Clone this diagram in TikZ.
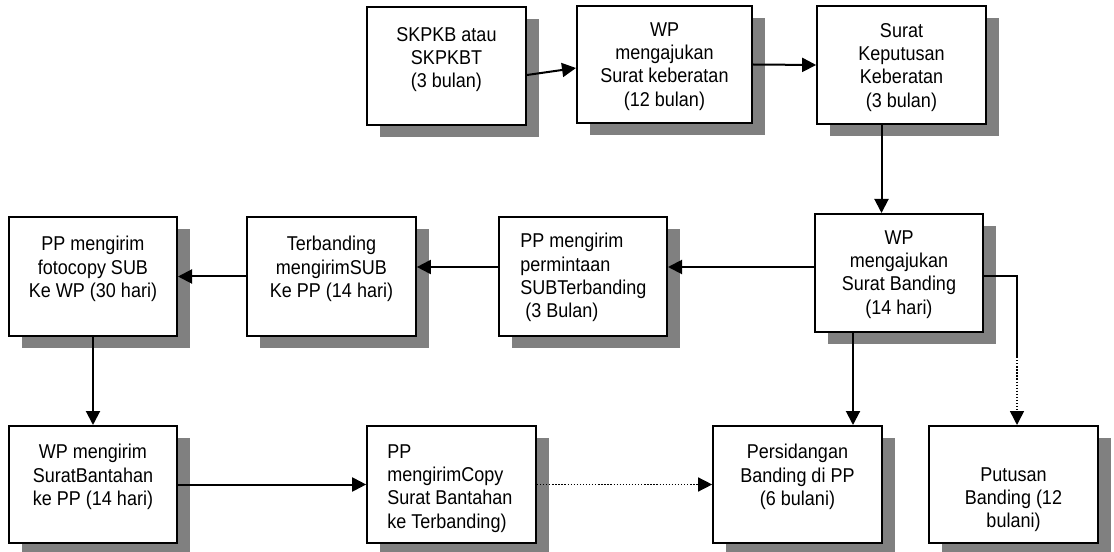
\documentclass[tikz,border=0pt]{standalone}
\usepackage{fontspec}
\setmainfont{Liberation Sans}[FakeStretch=0.9]
\usepackage{tikz}
\usetikzlibrary{calc,shadows,arrows.meta}
\usepackage{xcolor}
\definecolor{shadowgray}{RGB}{128,128,128}
\definecolor{linkblack}{RGB}{0,0,0}

\tikzset{
  box/.style={draw=linkblack,line width=1.5pt,fill=white,
    minimum width=126.5pt,minimum height=88.5pt,inner sep=0pt,
    drop shadow={shadow xshift=9.5pt,shadow yshift=-9pt,fill=shadowgray,opacity=1}},
  boxtext/.style={anchor=north,align=center,inner sep=0pt,
    font=\fontsize{15}{17.5}\selectfont},
  boxtextl/.style={boxtext,anchor=north west,align=left},
  arr/.style={linkblack,line width=1.5pt,-{Triangle[length=10.5pt,width=10.5pt]}},
  dotarr/.style={arr,line width=1.1pt,dash pattern=on 1pt off 1.3pt},
}

\begin{document}
\begin{tikzpicture}[x=0.75pt,y=-0.75pt]
  % --- background ---
  \fill[white] (0,0) rectangle (1114,552);
  \useasboundingbox (0,0) rectangle (1114,552);

  % --- top row ---
  \node[box,minimum width=119.25pt] (skpkb) at (446.5,66) {};
  \node[box,minimum width=131.25pt,minimum height=87.75pt] (keberatan) at (664.5,64.5) {};
  \node[box] (keputusan) at (901.5,65) {};

  % --- middle row ---
  \node[box,minimum width=126pt] (wpbanding) at (899,273) {};
  \node[box,minimum width=126pt,minimum height=89.25pt] (permintaan) at (583,276.5) {};
  \node[box,minimum height=89.25pt] (terbanding) at (331.5,276.5) {};
  \node[box,minimum width=126pt,minimum height=89.25pt] (fotocopy) at (93,276.5) {};

  % --- bottom row ---
  \node[box,minimum width=126pt,minimum height=87.75pt] (wpkirim) at (93,484.5) {};
  \node[box,minimum height=87.75pt] (copy) at (451.5,484.5) {};
  \node[box,minimum height=87.75pt] (sidang) at (797.5,484.5) {};
  \node[box,minimum height=87.75pt] (putusan) at (1013.5,484.5) {};

  % --- texts ---
  \node[boxtext] (skpkb-t) at ($(skpkb.north)+(0,21)$) {SKPKB atau\\SKPKBT\\(3 bulan)};
  \node[boxtext] (keberatan-t) at ($(keberatan.north)+(0,17)$) {WP\\mengajukan\\Surat keberatan\\(12 bulan)};
  \node[boxtext] (keputusan-t) at ($(keputusan.north)+(0,18)$) {Surat\\Keputusan\\Keberatan\\(3 bulan)};
  \node[boxtext] (wpbanding-t) at ($(wpbanding.north)+(0,17)$) {WP\\mengajukan\\Surat Banding\\(14 hari)};
  \node[boxtextl] (permintaan-t) at ($(permintaan.north west)+(22,17)$) {PP mengirim\\permintaan\\SUBTerbanding\\\ (3 Bulan)};
  \node[boxtext] (terbanding-t) at ($(terbanding.north)+(0,20)$) {Terbanding\\mengirimSUB\\Ke PP (14 hari)};
  \node[boxtext] (fotocopy-t) at ($(fotocopy.north)+(0,20)$) {PP mengirim\\fotocopy SUB\\Ke WP (30 hari)};
  \node[boxtext] (wpkirim-t) at ($(wpkirim.north)+(0,19)$) {WP mengirim\\SuratBantahan\\ke PP (14 hari)};
  \node[boxtextl] (copy-t) at ($(copy.north west)+(21,19)$) {PP\\mengirimCopy\\Surat Bantahan\\ke Terbanding)};
  \node[boxtext] (sidang-t) at ($(sidang.north)+(0,19)$) {Persidangan\\Banding di PP\\(6 bulani)};
  \node[boxtext] (putusan-t) at ($(putusan.north)+(0,42)$) {Putusan\\Banding (12\\bulani)};

  % --- connectors, top row ---
  \draw[arr] ($(skpkb.east)+(0,9)$) -- ($(keberatan.west)+(0,3.5)$);
  \draw[arr] (keberatan.east) -- (keputusan.west);
  \coordinate (k1) at ($(keputusan.south)+(-20,0)$);
  \draw[arr] (k1) -- (k1 |- wpbanding.north);

  % --- connectors, middle row ---
  \coordinate (m1) at ($(permintaan.east)+(0,-9.5)$);
  \draw[arr] (m1 -| wpbanding.west) -- (m1);
  \coordinate (m2) at ($(terbanding.east)+(0,-9.5)$);
  \draw[arr] (m2 -| permintaan.west) -- (m2);
  \draw[arr] (terbanding.west) -- (fotocopy.east);
  \draw[arr] (fotocopy.south) -- (wpkirim.north);

  % --- connectors, bottom row ---
  \draw[arr] (wpkirim.east) -- (copy.west);
  \draw[dotarr] (copy.east) -- (sidang.west);
  \coordinate (w1) at ($(wpbanding.south)+(-46,0)$);
  \draw[arr] (w1) -- (w1 |- sidang.north);

  % --- side branch to putusan ---
  \coordinate (b1) at ($(wpbanding.east)+(0,3)$);
  \coordinate (b2) at (1017,276);
  \coordinate (b3) at (1017,357);
  \draw[linkblack,line width=1.5pt] (b1) -- (b2) -- (b3);
  \draw[dotarr] (b3) -- (b3 |- putusan.north);

\end{tikzpicture}
\end{document}
